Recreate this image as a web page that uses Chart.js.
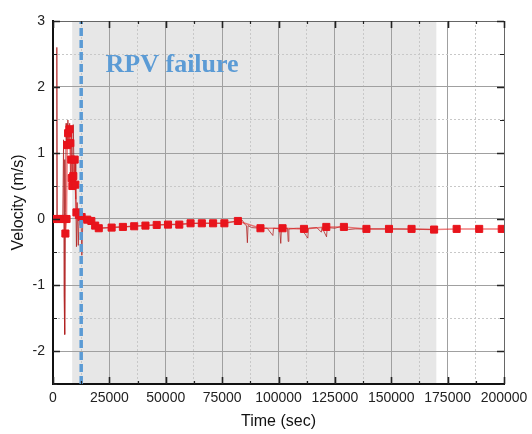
<!DOCTYPE html>
<html>
<head>
<meta charset="utf-8">
<script src="https://cdn.jsdelivr.net/npm/chart.js@4"></script>
<style>
html,body{margin:0;padding:0;background:#fff;}
#wrap{width:532px;height:434px;}
</style>
</head>
<body>
<div id="wrap"><canvas id="c" width="532" height="434"></canvas></div>
<script>
// ---- data ----
const markerTime = [500, 1800, 3000, 4300, 5000, 5500, 6000, 6300, 6700, 7300, 7700, 8100, 8300, 8600, 9000, 9600, 9900, 10400, 11500, 12700, 15200, 17000, 18700, 20300, 26000, 31000, 36000, 41000, 46000, 51000, 56000, 61000, 66000, 71000, 76000, 82000, 92000, 101800, 111300, 121200, 129000, 139000, 149000, 159000, 169000, 179000, 189000, 199000];
const markerVelocity = [0, 0, 0, 0, 0, -0.22, 0, 1.12, 1.3, 1.36, 1.15, 0.9, 0.62, 0.5, 0.65, 0.9, 0.52, 0.1, 0.06, 0.03, -0.01, -0.03, -0.1, -0.14, -0.13, -0.12, -0.11, -0.1, -0.09, -0.085, -0.085, -0.065, -0.065, -0.065, -0.065, -0.03, -0.14, -0.14, -0.15, -0.12, -0.12, -0.15, -0.15, -0.15, -0.16, -0.15, -0.15, -0.15];

const rawTime = [0, 1200, 1500, 1700, 1900, 4300, 4700, 4900, 5100, 5300, 5500, 5800, 6200, 6600, 7000, 7400, 7800, 8200, 8600, 9000, 9400, 9800, 10100, 10400, 10700, 11200, 11600, 12000, 12400, 12800, 13200, 14000, 16000, 18000, 20000, 25000, 35000, 45000, 55000, 65000, 75000, 82000, 84000, 85000, 85800, 86200, 86500, 88000, 92000, 95000, 97500, 97800, 100500, 101000, 101300, 104000, 104300, 104600, 108000, 110000, 113000, 113300, 117000, 119000, 119300, 121300, 121600, 125000, 127000, 131000, 134000, 150000, 170000];
const rawVelocity = [0, 0, 0.05, 2.6, 0, 0, 1.2, -1.15, 0.9, -1.75, 0.1, 1.45, 1.1, 1.5, 1.2, 1.45, 0.5, 1.35, 0.45, 1.43, 0.55, 0.9, 0.3, -0.42, 0.25, -0.4, 0.1, -0.1, 0.05, -0.55, -0.05, 0, -0.02, -0.08, -0.14, -0.13, -0.11, -0.09, -0.08, -0.065, -0.065, -0.03, -0.02, -0.08, -0.1, -0.36, -0.1, -0.13, -0.14, -0.14, -0.25, -0.14, -0.15, -0.37, -0.15, -0.14, -0.34, -0.15, -0.14, -0.14, -0.29, -0.14, -0.13, -0.2, -0.13, -0.27, -0.13, -0.14, -0.12, -0.16, -0.15, -0.15, -0.16];

const failureTime = [12500, 12500];
const failureVelocity = [-2.5, 3];
const shadeRange = [8500, 170000];

const xRange = [0, 200000];
const yRange = [-2.5, 3];
const xStep = 12500;
const xLabelStep = 25000;
const yStep = 0.5;

const annotationText = 'RPV failure';
const annotationAt = [23300, 2.23];
const xTitle = 'Time (sec)';
const yTitle = 'Velocity (m/s)';

// ---- chart ----
const toPoints = (xs, ys) => xs.map((v, i) => ({x: v, y: ys[i]}));
const isMajorX = v => Math.abs(v % xLabelStep) < 1e-6;
const isMajorY = v => Math.abs(v - Math.round(v)) < 1e-9;

const decor = {
  id: 'decor',
  beforeDraw(chart) {
    const {ctx, chartArea: a, scales: {x}} = chart;
    const x0 = x.getPixelForValue(shadeRange[0]);
    const x1 = x.getPixelForValue(shadeRange[1]);
    ctx.save();
    ctx.fillStyle = '#e7e7e7';
    ctx.fillRect(x0, a.top, x1 - x0, a.bottom - a.top);
    ctx.restore();
  },
  afterDraw(chart) {
    const {ctx, chartArea: a, scales: {x, y}} = chart;
    ctx.save();
    // top & right frame
    ctx.strokeStyle = '#666';
    ctx.lineWidth = 1;
    ctx.beginPath();
    ctx.moveTo(a.left, a.top + 0.5);
    ctx.lineTo(a.right + 0.5, a.top + 0.5);
    ctx.lineTo(a.right + 0.5, a.bottom);
    ctx.stroke();
    // inward tick marks
    ctx.strokeStyle = '#222';
    x.ticks.forEach(t => {
      const px = Math.round(x.getPixelForValue(t.value)) + 0.5;
      const len = isMajorX(t.value) ? 7 : 3;
      ctx.lineWidth = isMajorX(t.value) ? 1.6 : 1.2;
      ctx.beginPath();
      ctx.moveTo(px, a.bottom); ctx.lineTo(px, a.bottom - len);
      ctx.moveTo(px, a.top); ctx.lineTo(px, a.top + len);
      ctx.stroke();
    });
    y.ticks.forEach(t => {
      const py = Math.round(y.getPixelForValue(t.value)) + 0.5;
      const len = isMajorY(t.value) ? 7 : 4;
      ctx.lineWidth = isMajorY(t.value) ? 1.6 : 1.2;
      ctx.beginPath();
      ctx.moveTo(a.left, py); ctx.lineTo(a.left + len, py);
      ctx.moveTo(a.right, py); ctx.lineTo(a.right - len, py);
      ctx.stroke();
    });
    // annotation text
    ctx.fillStyle = '#5b9bd5';
    ctx.font = 'bold 26px "Liberation Serif", "Times New Roman", serif';
    ctx.textAlign = 'left';
    ctx.textBaseline = 'alphabetic';
    ctx.fillText(annotationText, x.getPixelForValue(annotationAt[0]), y.getPixelForValue(annotationAt[1]));
    ctx.restore();
  }
};

const tickFont = {family: '"Liberation Sans", Arial, sans-serif', size: 14};
const titleFont = {family: '"Liberation Sans", Arial, sans-serif', size: 16};

new Chart(document.getElementById('c'), {
  type: 'line',
  data: {
    datasets: [
      {
        label: 'RPV failure',
        data: toPoints(failureTime, failureVelocity),
        borderColor: '#5b9bd5',
        borderWidth: 3.5,
        borderDash: [8, 4],
        pointRadius: 0,
        order: 0
      },
      {
        label: 'Velocity (sampled)',
        data: toPoints(markerTime, markerVelocity),
        borderColor: 'rgba(228,40,40,0.6)',
        borderWidth: 1.5,
        pointStyle: 'rect',
        pointRadius: 5,
        pointBorderWidth: 1,
        pointBackgroundColor: '#e8141c',
        pointBorderColor: '#e8141c',
        order: 1
      },
      {
        label: 'Velocity',
        data: toPoints(rawTime, rawVelocity),
        borderColor: 'rgba(175,30,30,0.75)',
        borderWidth: 1,
        pointRadius: 0,
        order: 2
      }
    ]
  },
  options: {
    responsive: false,
    animation: false,
    devicePixelRatio: 1,
    layout: {padding: {top: 21, right: 28, left: 0, bottom: 0}},
    plugins: {legend: {display: false}, tooltip: {enabled: false}},
    elements: {line: {tension: 0}},
    scales: {
      x: {
        type: 'linear',
        min: xRange[0], max: xRange[1],
        afterFit: s => { s.height = 50; s.paddingLeft = 0; s.paddingRight = 0; },
        ticks: {
          stepSize: xStep,
          autoSkip: false,
          maxRotation: 0, minRotation: 0,
          padding: 6,
          color: '#222',
          font: tickFont,
          callback: v => isMajorX(v) ? String(v) : ''
        },
        grid: {
          drawTicks: false,
          color: c => (c.tick && isMajorX(c.tick.value)) ? '#a0a0a0' : '#c8c8c8',
          lineWidth: 1
        },
        border: {
          color: '#111', width: 2,
          dash: c => (c.tick && !isMajorX(c.tick.value)) ? [2, 2] : []
        },
        title: {display: true, text: xTitle, color: '#111', font: titleFont, padding: {top: 0, bottom: 3}}
      },
      y: {
        type: 'linear',
        min: yRange[0], max: yRange[1],
        afterFit: s => { s.width = 53; s.paddingTop = 0; s.paddingBottom = 0; },
        ticks: {
          stepSize: yStep,
          padding: 8,
          color: '#222',
          font: tickFont,
          callback: v => isMajorY(v) && v > yRange[0] ? String(Math.round(v)) : ''
        },
        grid: {
          drawTicks: false,
          color: c => (c.tick && isMajorY(c.tick.value)) ? '#a0a0a0' : '#c8c8c8',
          lineWidth: 1
        },
        border: {
          color: '#111', width: 2,
          dash: c => (c.tick && !isMajorY(c.tick.value)) ? [2, 2] : []
        },
        title: {display: true, text: yTitle, color: '#111', font: titleFont, padding: {top: 9, bottom: 0}}
      }
    }
  },
  plugins: [decor]
});
</script>
</body>
</html>
